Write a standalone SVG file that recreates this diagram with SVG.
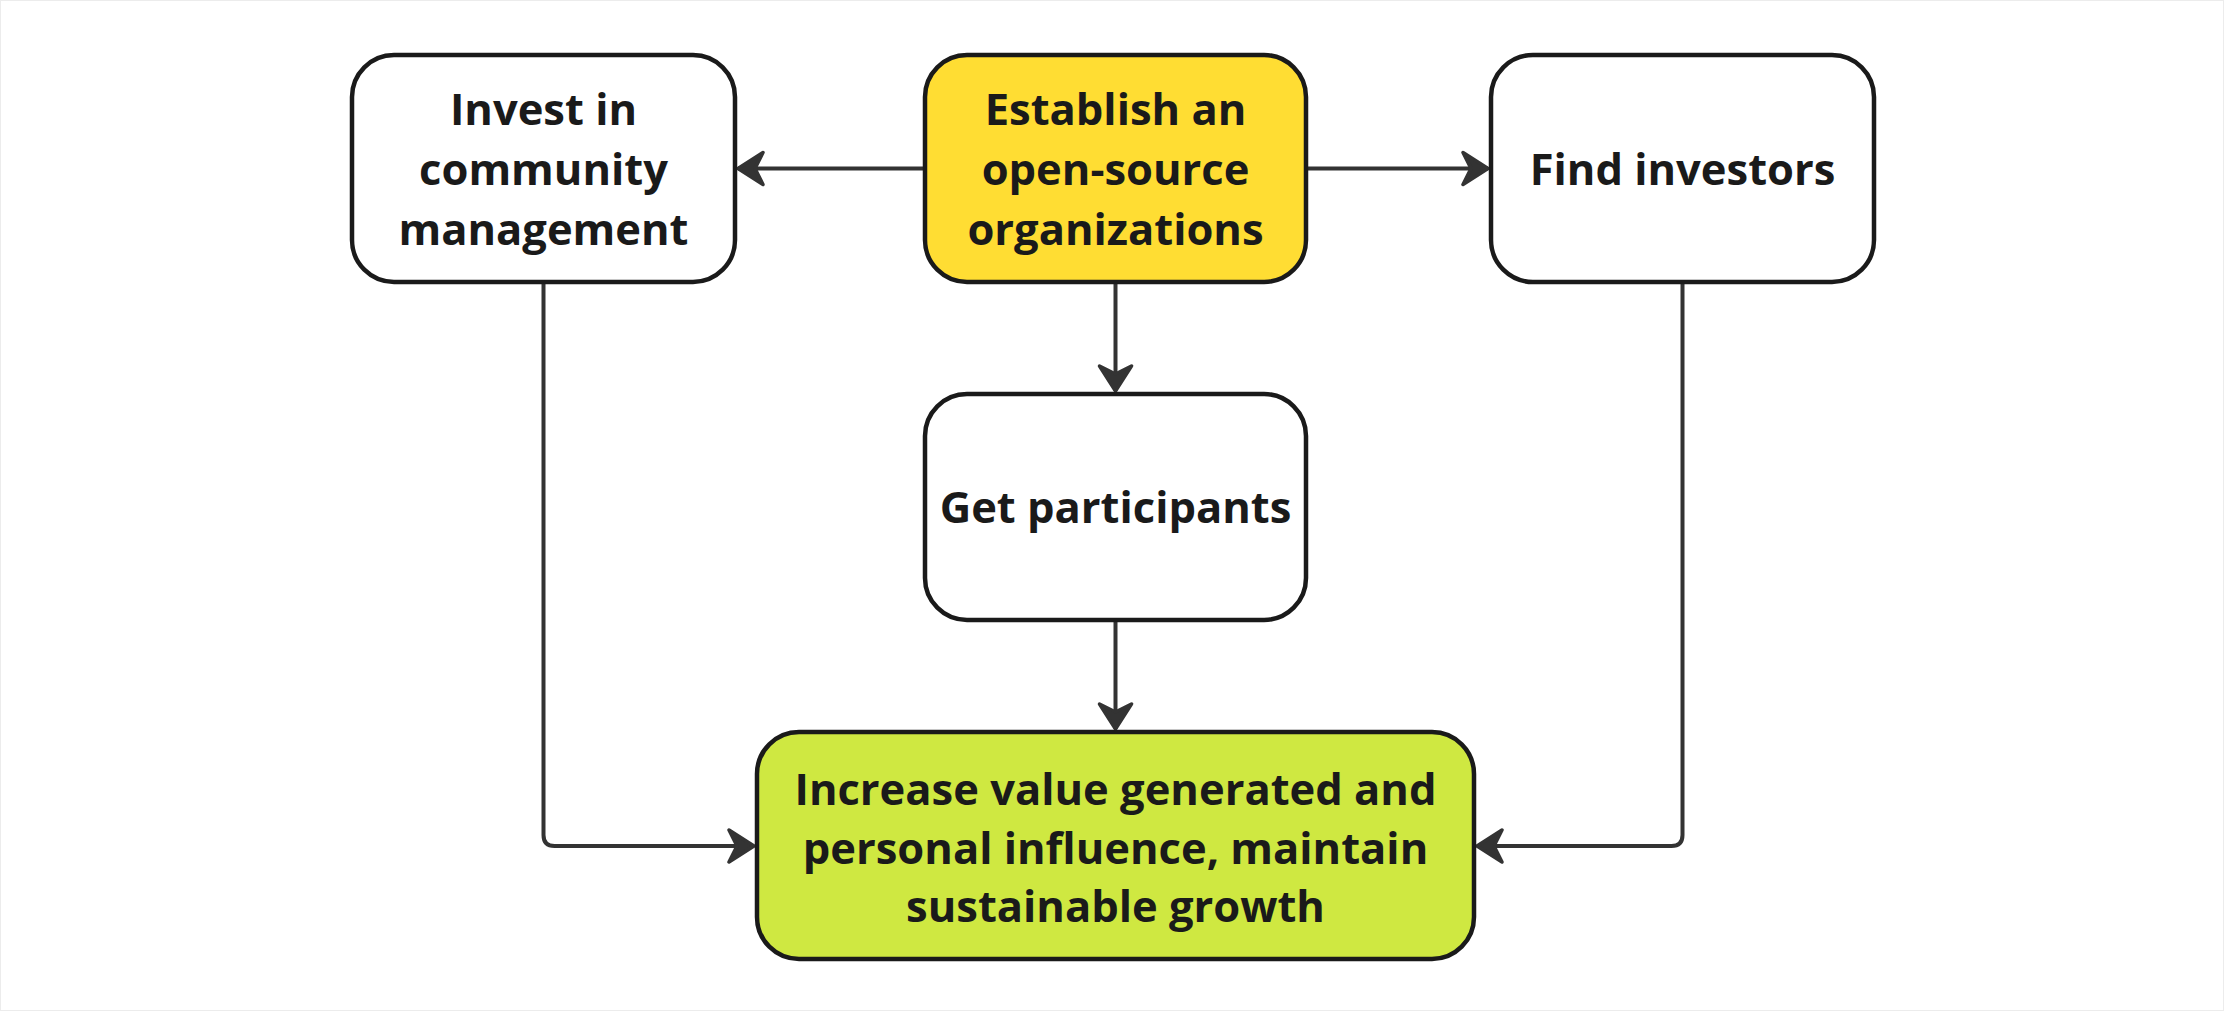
<svg xmlns="http://www.w3.org/2000/svg" width="2224" height="1011" viewBox="0 0 2224 1011">
<defs>
<style>
.box{stroke:#1a1a1a;stroke-width:4.5}
.w{fill:#ffffff}
.y{fill:#ffdd33}
.g{fill:#cfe841}
.t{font-family:"Open Sans","Noto Sans","Liberation Sans",sans-serif;font-weight:700;font-size:43.5px;fill:#1a1a1a;text-anchor:middle}
.c{fill:none;stroke:#333333;stroke-width:4;stroke-linejoin:round}
</style>
<marker id="ah" viewBox="-30 -19 32 38" refX="0" refY="0" markerWidth="32" markerHeight="38" markerUnits="userSpaceOnUse" orient="auto">
<path d="M0,0 L-25,-16 L-17,0 L-25,16 Z" fill="#333333" stroke="#333333" stroke-width="3.5" stroke-linejoin="round"/>
</marker>
</defs>
<rect x="0" y="0" width="2224" height="1011" fill="#ffffff"/>
<rect x="0.5" y="0.5" width="2223" height="1010" fill="none" stroke="#ececec" stroke-width="1"/>
<g id="connectors">
<path class="c" d="M925,168.5 L738,168.5" marker-end="url(#ah)"/>
<path class="c" d="M1306,168.5 L1488,168.5" marker-end="url(#ah)"/>
<path class="c" d="M1115.5,282 L1115.5,391" marker-end="url(#ah)"/>
<path class="c" d="M1115.5,620 L1115.5,729" marker-end="url(#ah)"/>
<path class="c" d="M543.5,282 L543.5,835 Q543.5,846 554.5,846 L754,846" marker-end="url(#ah)"/>
<path class="c" d="M1682.5,282 L1682.5,835 Q1682.5,846 1671.5,846 L1477,846" marker-end="url(#ah)"/>
</g>
<g id="invest">
<rect class="box w" x="352" y="55" width="383" height="227" rx="42"/>
<text class="t" x="543.5" y="125">Invest in</text>
<text class="t" x="543.5" y="185">community</text>
<text class="t" x="543.5" y="245">management</text>
</g>
<g id="establish">
<rect class="box y" x="925" y="55" width="381" height="227" rx="42"/>
<text class="t" x="1115.5" y="125">Establish an</text>
<text class="t" x="1115.5" y="185">open-source</text>
<text class="t" x="1115.5" y="245">organizations</text>
</g>
<g id="find">
<rect class="box w" x="1491" y="55" width="383" height="227" rx="42"/>
<text class="t" x="1682.5" y="185">Find investors</text>
</g>
<g id="participants">
<rect class="box w" x="925" y="394" width="381" height="226" rx="42"/>
<text class="t" x="1115.5" y="523">Get participants</text>
</g>
<g id="increase">
<rect class="box g" x="757" y="732" width="717" height="227" rx="42"/>
<text class="t" x="1115.5" y="805">Increase value generated and</text>
<text class="t" x="1115.5" y="864">personal influence, maintain</text>
<text class="t" x="1115.5" y="922">sustainable growth</text>
</g>
</svg>
